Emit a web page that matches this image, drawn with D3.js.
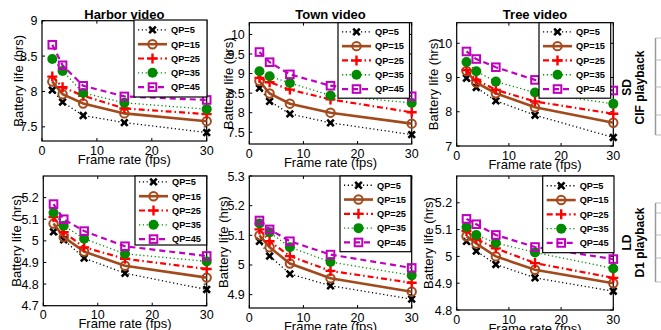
<!DOCTYPE html>
<html>
<head>
<meta charset="utf-8">
<script src="https://cdn.jsdelivr.net/npm/d3@7"></script>
<style>
  body { margin: 0; background: #fff; }
  svg { display: block; font-family: "Liberation Sans", Arial, sans-serif; }
</style>
</head>
<body>
<svg id="chart" width="661" height="330"></svg>
<script>
const frameRates = [1.875, 3.75, 7.5, 15, 30];
const qpLabels = ['QP=5', 'QP=15', 'QP=25', 'QP=35', 'QP=45'];
const videoTitles = ['Harbor video', 'Town video', 'Tree video'];
const xTicks = [0, 10, 20, 30];

// battery life (hrs), one row per QP (5, 15, 25, 35, 45)
const harborCIF = [
  [8.02, 7.85, 7.66, 7.56, 7.42],
  [8.14, 7.96, 7.83, 7.69, 7.58],
  [8.21, 8.06, 7.94, 7.76, 7.68],
  [8.46, 8.29, 7.98, 7.84, 7.75],
  [8.66, 8.37, 8.08, 7.93, 7.88]
];
const townCIF = [
  [8.63, 8.29, 7.97, 7.74, 7.44],
  [8.81, 8.49, 8.23, 8.00, 7.72],
  [8.89, 8.78, 8.59, 8.34, 8.01],
  [9.06, 8.93, 8.76, 8.44, 8.25],
  [9.55, 9.29, 8.98, 8.69, 8.42]
];
const treeCIF = [
  [8.98, 8.71, 8.32, 7.90, 7.25],
  [9.19, 8.85, 8.54, 8.13, 7.68],
  [9.22, 8.93, 8.64, 8.30, 7.94],
  [9.45, 9.18, 8.88, 8.56, 8.23],
  [9.76, 9.54, 9.30, 8.93, 8.62]
];
const harborD1 = [
  [5.042, 5.005, 4.920, 4.850, 4.775],
  [5.080, 5.017, 4.950, 4.885, 4.830],
  [5.110, 5.040, 4.970, 4.917, 4.870],
  [5.130, 5.070, 5.010, 4.940, 4.905],
  [5.170, 5.100, 5.045, 4.975, 4.930]
];
const townD1 = [
  [5.080, 5.030, 4.970, 4.930, 4.885],
  [5.100, 5.060, 5.005, 4.955, 4.910],
  [5.120, 5.080, 5.030, 4.980, 4.940],
  [5.140, 5.110, 5.060, 5.010, 4.965],
  [5.150, 5.120, 5.080, 5.035, 4.990]
];
const treeD1 = [
  [5.056, 5.020, 4.970, 4.920, 4.870],
  [5.075, 5.048, 5.000, 4.950, 4.900],
  [5.095, 5.065, 5.030, 4.975, 4.920],
  [5.110, 5.080, 5.050, 5.015, 4.955],
  [5.140, 5.120, 5.080, 5.035, 4.990]
];

// line / marker style per QP
const styles = [
  { color: '#000', width: 1.3, dash: '1.2,2.6', marker: 'x' },
  { color: '#a34a1c', width: 2.6, dash: null, marker: 'o' },
  { color: '#ff0000', width: 2.2, dash: '6,3,1.5,3', marker: '+' },
  { color: '#008a00', width: 1.3, dash: '1.2,2.6', marker: 'dot' },
  { color: '#bf00bf', width: 2.2, dash: '6,4', marker: 's' }
];

const panels = [
  { series: harborCIF, title: videoTitles[0], left: 42, right: 206.7, top: 20.7, bottom: 141, yDomain: [7.3, 9], yTicks: [7.5, 8, 8.5, 9], yLabelX: 18, leg: { x: 134, y: 20, w: 73, h: 77 } },
  { series: townCIF, title: videoTitles[1], left: 249.3, right: 411.7, top: 22.7, bottom: 144, yDomain: [7.2, 10.3], yTicks: [7.5, 8, 8.5, 9, 9.5, 10], yLabelX: 228, leg: { x: 338, y: 22.7, w: 71.5, h: 75.5 } },
  { series: treeCIF, title: videoTitles[2], left: 456.7, right: 613.3, top: 22.7, bottom: 146, yDomain: [7, 10.6], yTicks: [7, 8, 9, 10], yLabelX: 433, leg: { x: 539, y: 22.7, w: 71.7, h: 75.5 } },
  { series: harborD1, title: null, left: 43.3, right: 206.7, top: 176, bottom: 305.7, yDomain: [4.7, 5.3], yTicks: [4.7, 4.8, 4.9, 5, 5.1, 5.2], yLabelX: 16, leg: { x: 135, y: 176, w: 71.7, h: 69 } },
  { series: townD1, title: null, left: 249.3, right: 411.7, top: 176, bottom: 308, yDomain: [4.855, 5.3], yTicks: [4.9, 5, 5.1, 5.2, 5.3], yLabelX: 223, leg: { x: 340, y: 176, w: 71, h: 75.7 } },
  { series: treeD1, title: null, left: 456.7, right: 613.3, top: 176, bottom: 310, yDomain: [4.8, 5.3], yTicks: [4.8, 4.9, 5, 5.1, 5.2], yLabelX: 428, leg: { x: 542.7, y: 176, w: 71.3, h: 76.7 } }
];

const svg = d3.select('#chart');

function drawMarker(g, kind, st, cx, cy) {
  if (kind === 'x') {
    g.append('path').attr('d', `M${cx - 3.3},${cy - 3.3}L${cx + 3.3},${cy + 3.3}M${cx - 3.3},${cy + 3.3}L${cx + 3.3},${cy - 3.3}`)
      .attr('stroke', st.color).attr('stroke-width', 2.6).attr('fill', 'none');
  } else if (kind === 'o') {
    g.append('circle').attr('cx', cx).attr('cy', cy).attr('r', 4.2)
      .attr('stroke', st.color).attr('stroke-width', 2).attr('fill', 'none');
  } else if (kind === '+') {
    g.append('path').attr('d', `M${cx - 5},${cy}H${cx + 5}M${cx},${cy - 5}V${cy + 5}`)
      .attr('stroke', st.color).attr('stroke-width', 2.4).attr('fill', 'none');
  } else if (kind === 'dot') {
    g.append('circle').attr('cx', cx).attr('cy', cy).attr('r', 5).attr('fill', st.color);
  } else if (kind === 's') {
    g.append('rect').attr('x', cx - 3.8).attr('y', cy - 3.8).attr('width', 7.6).attr('height', 7.6)
      .attr('stroke', st.color).attr('stroke-width', 2).attr('fill', 'none');
  }
}

panels.forEach(p => {
  const x = d3.scaleLinear().domain([0, 30]).range([p.left, p.right]);
  const y = d3.scaleLinear().domain(p.yDomain).range([p.bottom, p.top]);
  const g = svg.append('g');

  // axes box
  g.append('rect').attr('x', p.left).attr('y', p.top)
    .attr('width', p.right - p.left).attr('height', p.bottom - p.top)
    .attr('fill', 'none').attr('stroke', '#000').attr('stroke-width', 1.2);

  // inward ticks + labels
  xTicks.forEach(t => {
    g.append('line').attr('x1', x(t)).attr('x2', x(t)).attr('y1', p.bottom).attr('y2', p.bottom - 3)
      .attr('stroke', '#000').attr('stroke-width', 1);
    g.append('line').attr('x1', x(t)).attr('x2', x(t)).attr('y1', p.top).attr('y2', p.top + 3)
      .attr('stroke', '#000').attr('stroke-width', 1);
    g.append('text').attr('x', x(t)).attr('y', p.bottom + 13.5).attr('text-anchor', 'middle')
      .attr('font-size', 12.5).text(t);
  });
  p.yTicks.forEach(t => {
    g.append('line').attr('x1', p.left).attr('x2', p.left + 3).attr('y1', y(t)).attr('y2', y(t))
      .attr('stroke', '#000').attr('stroke-width', 1);
    g.append('line').attr('x1', p.right).attr('x2', p.right - 3).attr('y1', y(t)).attr('y2', y(t))
      .attr('stroke', '#000').attr('stroke-width', 1);
    g.append('text').attr('x', p.left - 4.5).attr('y', y(t)).attr('dy', '0.36em').attr('text-anchor', 'end')
      .attr('font-size', 12.5).text(String(t));
  });

  // axis labels
  g.append('text').attr('x', (p.left + p.right) / 2).attr('y', p.bottom + 22.5).attr('text-anchor', 'middle')
    .attr('font-size', 13).text('Frame rate (fps)');
  g.append('text').attr('transform', `translate(${p.yLabelX},${(p.top + p.bottom) / 2}) rotate(-90)`)
    .attr('dy', '0.36em').attr('text-anchor', 'middle').attr('font-size', 13).text('Battery life (hrs)');
  if (p.title) {
    g.append('text').attr('x', (p.left + p.right) / 2).attr('y', 19.3).attr('text-anchor', 'middle')
      .attr('font-size', 13).attr('font-weight', 'bold').text(p.title);
  }

  // series
  const line = d3.line().x((d, i) => x(frameRates[i])).y(d => y(d));
  p.series.forEach((vals, si) => {
    const st = styles[si];
    g.append('path').attr('d', line(vals)).attr('fill', 'none')
      .attr('stroke', st.color).attr('stroke-width', st.width)
      .attr('stroke-dasharray', st.dash);
    vals.forEach((v, i) => drawMarker(g, st.marker, st, x(frameRates[i]), y(v)));
  });

  // legend
  const L = p.leg;
  const lg = svg.append('g');
  lg.append('rect').attr('x', L.x).attr('y', L.y).attr('width', L.w).attr('height', L.h)
    .attr('fill', '#fff').attr('stroke', '#000').attr('stroke-width', 1.2);
  const step = 14.3;
  const start = (L.h - step * 4) / 2;
  qpLabels.forEach((lab, i) => {
    const st = styles[i];
    const ry = L.y + start + i * step;
    lg.append('line').attr('x1', L.x + 4).attr('x2', L.x + 33).attr('y1', ry).attr('y2', ry)
      .attr('stroke', st.color).attr('stroke-width', st.width).attr('stroke-dasharray', st.dash);
    drawMarker(lg, st.marker, st, L.x + 18.5, ry);
    lg.append('text').attr('x', L.x + 37).attr('y', ry).attr('dy', '0.36em')
      .attr('font-size', 9.2).attr('font-weight', 'bold').text(lab);
  });
});

// row labels on the right
const rowLabels = [
  { a: 'SD', b: 'CIF playback', cy: 87.5, top: 38, bottom: 135, marks: [60, 87, 115] },
  { a: 'LD', b: 'D1 playback', cy: 242.5, top: 203, bottom: 282, marks: [213, 235, 258] }
];
rowLabels.forEach(r => {
  svg.append('text').attr('transform', `translate(626.3,${r.cy}) rotate(-90)`).attr('dy', '0.36em')
    .attr('text-anchor', 'middle').attr('font-size', 12).attr('font-weight', 'bold').text(r.a);
  svg.append('text').attr('transform', `translate(640,${r.cy}) rotate(-90)`).attr('dy', '0.36em')
    .attr('text-anchor', 'middle').attr('font-size', 12).attr('font-weight', 'bold').text(r.b);
  svg.append('line').attr('x1', 655.5).attr('x2', 655.5).attr('y1', r.top).attr('y2', r.bottom)
    .attr('stroke', '#999').attr('stroke-width', 1.5);
  [r.top, ...r.marks, r.bottom].forEach(m => {
    svg.append('line').attr('x1', 655.5).attr('x2', 661).attr('y1', m).attr('y2', m)
      .attr('stroke', '#bbb').attr('stroke-width', 1);
  });
});
</script>
</body>
</html>
